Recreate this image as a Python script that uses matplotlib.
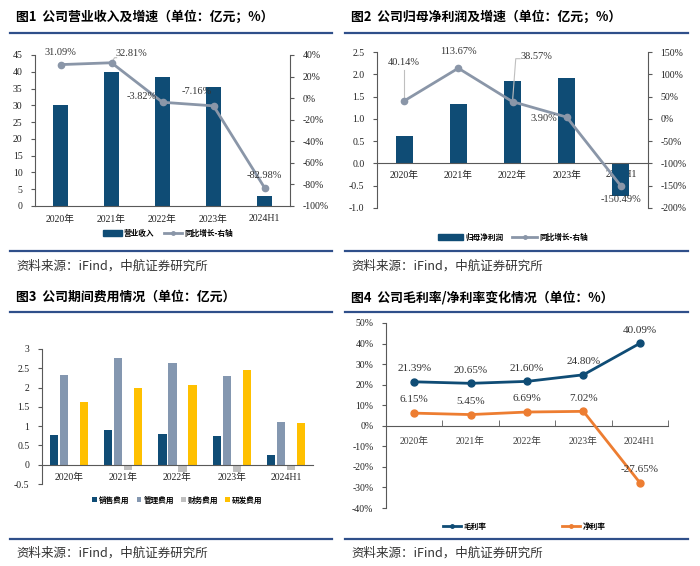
import matplotlib
matplotlib.use("Agg")
import matplotlib.pyplot as plt
import numpy as np
from matplotlib.lines import Line2D

plt.rcParams['font.family'] = ['Liberation Serif', 'Noto Sans CJK SC']

# ---------------- data ----------------
years = ['2020年', '2021年', '2022年', '2023年', '2024H1']

revenue = [30.0, 39.9, 38.4, 35.6, 2.9]
revenue_yoy = [31.09, 32.81, -3.82, -7.16, -82.98]

net_profit = [0.62, 1.33, 1.84, 1.91, -0.74]
net_profit_yoy = [40.14, 113.67, 38.57, 3.90, -150.49]

fee_names = ['销售费用', '管理费用', '财务费用', '研发费用']
sales_fee = [0.78, 0.90, 0.80, 0.74, 0.26]
admin_fee = [2.33, 2.76, 2.63, 2.31, 1.11]
finance_fee = [-0.02, -0.14, -0.18, -0.20, -0.13]
rd_fee = [1.63, 1.98, 2.06, 2.45, 1.08]

gross_margin = [21.39, 20.65, 21.60, 24.80, 40.09]
net_margin = [6.15, 5.45, 6.69, 7.02, -27.65]

titles = ['图1  公司营业收入及增速（单位：亿元；%）',
          '图2  公司归母净利润及增速（单位：亿元；%）',
          '图3  公司期间费用情况（单位：亿元）',
          '图4  公司毛利率/净利率变化情况（单位：%）']
source = '资料来源：iFind，中航证券研究所'

# ---------------- styles ----------------
W, H = 700, 566
BLUE = '#0f4c75'
GREYBLUE = '#8497b0'
LGREY = '#bfbfbf'
YELLOW = '#ffc000'
LINEGREY = '#8a96a8'
ORANGE = '#ed7d31'
RULE = '#2f4f8a'
SPINE = '#595959'
TFS = 7
LEG = {'family': ['Noto Sans CJK SC'], 'size': 5.5, 'weight': 'bold'}

fig = plt.figure(figsize=(W / 100, H / 100), dpi=100)
fig.patch.set_facecolor('white')


def px_axes(x0, y0, x1, y1):
    return fig.add_axes([x0 / W, 1 - y1 / H, (x1 - x0) / W, (y1 - y0) / H])


def hrule(x0, x1, y, lw=1.6):
    fig.add_artist(Line2D([x0 / W, x1 / W], [1 - y / H, 1 - y / H],
                          color=RULE, lw=lw, transform=fig.transFigure))


def ftext(x, y, s, **kw):
    fig.text(x / W, 1 - y / H, s, **kw)


def style_ax(ax):
    for side in ['top', 'right']:
        ax.spines[side].set_visible(False)
    ax.spines['left'].set_color(SPINE)
    ax.spines['bottom'].set_color(SPINE)
    ax.tick_params(axis='y', labelsize=TFS, length=3, color=SPINE, pad=6, labelcolor='#222222')
    ax.tick_params(axis='x', labelsize=TFS, length=0, pad=6, labelcolor='#222222')


def style_right(ax):
    for s in ['top', 'left', 'bottom']:
        ax.spines[s].set_visible(False)
    ax.spines['right'].set_color(SPINE)
    ax.tick_params(axis='y', labelsize=TFS, length=3, color=SPINE, pad=6, labelcolor='#222222')


# panel frames: titles, rules, sources
panels = [(10, 332), (345, 688)]
for row, (ty, r1, r2, sy) in enumerate([(17, 33, 251, 266), (297, 312, 539, 553)]):
    for col, (xa, xb) in enumerate(panels):
        ftext(xa + 6, ty, titles[row * 2 + col], fontsize=9.3, fontweight='bold',
              family=['Noto Sans CJK SC'], va='center')
        hrule(xa, xb, r1)
        hrule(xa, xb, r2)
        ftext(xa + 6, sy, source, fontsize=9, family=['Noto Sans CJK SC'],
              color='#333333', va='center')

x = np.arange(len(years))

# ---------------- Figure 1 ----------------
ax1 = px_axes(35, 55, 290, 206)
ax1.bar(x, revenue, width=0.31, color=BLUE, zorder=2)
ax1.set_xlim(-0.5, 4.5)
ax1.set_ylim(0, 45)
ax1.set_yticks(np.arange(0, 46, 5))
ax1.set_xticks(x)
ax1.set_xticklabels(years)
style_ax(ax1)
ax1r = ax1.twinx()
ax1r.plot(x, revenue_yoy, color=LINEGREY, lw=2, marker='o', ms=4.5, zorder=3)
ax1r.set_ylim(-100, 40)
ax1r.set_yticks(np.arange(-100, 41, 20))
ax1r.set_yticklabels([f'{v}%' for v in range(-100, 41, 20)])
style_right(ax1r)
off1 = [(0, 9), (14, 7), (-15, 4), (-12, 10), (0, 9)]
for xi, v, (dx, dy) in zip(x, revenue_yoy, off1):
    ax1r.annotate(f'{v:.2f}%', (xi, v), xytext=(dx, dy), textcoords='offset points',
                  ha='center', va='center', fontsize=TFS + 0.5, color='#333333')
ax1r.plot([1, 1.06, 1.1], [32.81, 37.5, 37.5], color=LGREY, lw=0.8)
h1 = [plt.Rectangle((0, 0), 1, 1, color=BLUE),
      Line2D([], [], color=LINEGREY, lw=2, marker='o', ms=2.5)]
fig.legend(h1, ['营业收入', '同比增长-右轴'], loc='center', bbox_to_anchor=(168 / W, 1 - 233 / H),
           ncol=2, frameon=False, handlelength=2.4, handleheight=0.9, columnspacing=1.2,
           handletextpad=0.3, prop=LEG)

# ---------------- Figure 2 ----------------
ax2 = px_axes(377, 52, 648, 208)
ax2.bar(x, net_profit, width=0.31, color=BLUE, zorder=2)
ax2.set_xlim(-0.5, 4.5)
ax2.set_ylim(-1.0, 2.5)
ax2.set_yticks(np.arange(-1.0, 2.51, 0.5))
ax2.set_yticklabels([f'{v:.1f}' for v in np.arange(-1.0, 2.51, 0.5)])
style_ax(ax2)
ax2.spines['bottom'].set_position(('data', 0))
ax2.set_xticks(x)
ax2.set_xticklabels(years)
ax2.tick_params(axis='x', pad=5)
ax2r = ax2.twinx()
ax2r.plot(x, net_profit_yoy, color=LINEGREY, lw=2, marker='o', ms=4.5, zorder=3)
ax2r.set_ylim(-200, 150)
ax2r.set_yticks(np.arange(-200, 151, 50))
ax2r.set_yticklabels([f'{v}%' for v in range(-200, 151, 50)])
style_right(ax2r)
lab2 = [(0, 117), (0, 140), (0.45, 130), (-0.42, -10), (0, -190)]
for xi, v, (dx, ty) in zip(x, net_profit_yoy, lab2):
    ax2r.text(xi + dx, ty, f'{v:.2f}%', ha='center', va='bottom', fontsize=TFS + 0.5,
              color='#333333')
ax2r.plot([0, 0], [40.14, 110], color=LGREY, lw=0.8)
ax2r.plot([2, 2.06, 2.14], [38.57, 135, 135], color=LGREY, lw=0.8)
h2 = [plt.Rectangle((0, 0), 1, 1, color=BLUE),
      Line2D([], [], color=LINEGREY, lw=2, marker='o', ms=2.5)]
fig.legend(h2, ['归母净利润', '同比增长-右轴'], loc='center', bbox_to_anchor=(513 / W, 1 - 237 / H),
           ncol=2, frameon=False, handlelength=3.2, handleheight=0.9, columnspacing=1.2,
           handletextpad=0.3, prop=LEG)

# ---------------- Figure 3 ----------------
ax3 = px_axes(42, 349, 313, 484)
fees = [sales_fee, admin_fee, finance_fee, rd_fee]
cols3 = [BLUE, GREYBLUE, LGREY, YELLOW]
bw = 0.15
offs = np.array([-1.5, -0.5, 0.5, 1.5]) * 0.185
for vals, c, o, n in zip(fees, cols3, offs, fee_names):
    ax3.bar(x + o, vals, width=bw, color=c, label=n, zorder=2)
ax3.set_xlim(-0.5, 4.5)
ax3.set_ylim(-0.5, 3)
ax3.set_yticks(np.arange(-0.5, 3.01, 0.5))
ax3.set_yticklabels(['-0.5', '0', '0.5', '1', '1.5', '2', '2.5', '3'])
style_ax(ax3)
ax3.spines['bottom'].set_position(('data', 0))
ax3.set_xticks(x)
ax3.set_xticklabels(years)
ax3.tick_params(axis='x', pad=6)
ax3.legend(loc='center', bbox_to_anchor=(0.5, 1 - (500 - 349) / (484 - 349)), ncol=4,
           frameon=False, handlelength=0.6, handleheight=0.6, columnspacing=0.9,
           handletextpad=0.3, prop=LEG)

# ---------------- Figure 4 ----------------
ax4 = px_axes(386, 323, 668, 508)
ax4.plot(x, gross_margin, color=BLUE, lw=2, marker='o', ms=5, label='毛利率', zorder=3)
ax4.plot(x, net_margin, color=ORANGE, lw=2, marker='o', ms=5, label='净利率', zorder=3)
ax4.set_xlim(-0.5, 4.5)
ax4.set_ylim(-40, 50)
ax4.set_yticks(np.arange(-40, 51, 10))
ax4.set_yticklabels([f'{v}%' for v in range(-40, 51, 10)])
style_ax(ax4)
ax4.spines['bottom'].set_position(('data', 0))
ax4.set_xticks(x)
ax4.set_xticklabels(years, color='#404040')
ax4.set_xticks(np.arange(-0.5, 4.6, 1), minor=True)
ax4.tick_params(axis='x', which='minor', length=4, direction='in', color=SPINE)
ax4.tick_params(axis='x', pad=8)
for series in (gross_margin, net_margin):
    for xi, v in zip(x, series):
        ax4.annotate(f'{v:.2f}%', (xi, v), xytext=(0, 9.5), textcoords='offset points',
                     ha='center', va='center', fontsize=TFS + 1, color='#333333')
ax4.legend(loc='center', bbox_to_anchor=(0.49, 1 - (526 - 323) / (508 - 323)), ncol=2,
           frameon=False, handlelength=2.3, columnspacing=10, markerscale=0.5,
           handletextpad=0.3, prop=LEG)

fig.savefig('out.png', dpi=100, facecolor='white')
